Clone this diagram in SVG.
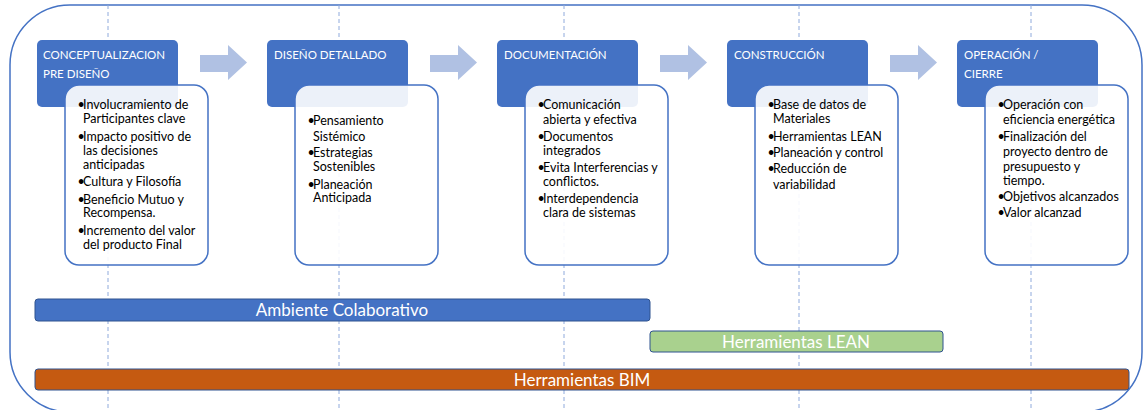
<svg xmlns="http://www.w3.org/2000/svg" width="1145" height="410" viewBox="0 0 1145 410">
<style>
.frame{fill:#fff;stroke:#4472c4;stroke-width:1.5}
.guide{stroke:#8faadc;stroke-width:1;stroke-dasharray:4 3}
.hdr{fill:#4472c4}
.det{fill:#fff;fill-opacity:0.9;stroke:#4472c4;stroke-width:1.5}
.ht{font-family:Lato,"Liberation Sans",sans-serif;font-size:11.5px;fill:#fff}
.bt{font-family:Lato,"Liberation Sans",sans-serif;font-size:12.5px;fill:#000}
.arr{fill:#b0c1e3}
.bar{stroke:#2f528f;stroke-width:1}
.bart{font-family:Lato,"Liberation Sans",sans-serif;font-size:17px;fill:#fff;text-anchor:middle}
</style>
<rect class="frame" x="10" y="5" width="1132" height="407" rx="60"/>
<g id="guides">
<line class="guide" x1="108" y1="5" x2="108" y2="410"/>
<line class="guide" x1="339" y1="5" x2="339" y2="410"/>
<line class="guide" x1="564" y1="5" x2="564" y2="410"/>
<line class="guide" x1="799" y1="5" x2="799" y2="410"/>
<line class="guide" x1="1031" y1="5" x2="1031" y2="410"/>
</g>
<g id="connectors">
<path class="arr" d="M200,55 H228 V45 L247,62.5 L228,80 V72 H200 Z"/>
<path class="arr" d="M430,55 H458 V45 L477,62.5 L458,80 V72 H430 Z"/>
<path class="arr" d="M660,55 H688 V45 L707,62.5 L688,80 V72 H660 Z"/>
<path class="arr" d="M890,55 H918 V45 L937,62.5 L918,80 V72 H890 Z"/>
</g>
<g id="phase1">
<rect class="hdr" x="37" y="40" width="141" height="67" rx="5"/>
<text class="ht" x="43" y="58.5">CONCEPTUALIZACION</text>
<text class="ht" x="43" y="77.5">PRE DISEÑO</text>
<rect class="det" x="65" y="85" width="143" height="180" rx="14"/>
<text class="bt"><tspan x="77.5" y="108.5">•</tspan><tspan x="83" y="108.5">Involucramiento de</tspan><tspan x="83" y="122.5">Participantes clave</tspan><tspan x="77.5" y="141">•</tspan><tspan x="83" y="141">Impacto positivo de</tspan><tspan x="83" y="154.5">las decisiones</tspan><tspan x="83" y="168.5">anticipadas</tspan><tspan x="77.5" y="185.5">•</tspan><tspan x="83" y="185.5">Cultura y Filosofía</tspan><tspan x="77.5" y="203.5">•</tspan><tspan x="83" y="203.5">Beneficio Mutuo y</tspan><tspan x="83" y="217">Recompensa.</tspan><tspan x="77.5" y="234.5">•</tspan><tspan x="83" y="234.5">Incremento del valor</tspan><tspan x="83" y="248.5">del producto Final</tspan></text>
</g>
<g id="phase2">
<rect class="hdr" x="267" y="40" width="141" height="67" rx="5"/>
<text class="ht" x="274" y="58.5">DISEÑO DETALLADO</text>
<rect class="det" x="295" y="85" width="143" height="180" rx="14"/>
<text class="bt"><tspan x="307.5" y="125">•</tspan><tspan x="313" y="125">Pensamiento</tspan><tspan x="313" y="140.5">Sistémico</tspan><tspan x="307.5" y="156.5">•</tspan><tspan x="313" y="156.5">Estrategias</tspan><tspan x="313" y="171">Sostenibles</tspan><tspan x="307.5" y="188.5">•</tspan><tspan x="313" y="188.5">Planeación</tspan><tspan x="313" y="202">Anticipada</tspan></text>
</g>
<g id="phase3">
<rect class="hdr" x="497" y="40" width="141" height="67" rx="5"/>
<text class="ht" x="504" y="58.5">DOCUMENTACIÓN</text>
<rect class="det" x="525" y="85" width="143" height="180" rx="14"/>
<text class="bt"><tspan x="537.5" y="108.5">•</tspan><tspan x="543" y="108.5">Comunicación</tspan><tspan x="543" y="123.5">abierta y efectiva</tspan><tspan x="537.5" y="140.5">•</tspan><tspan x="543" y="140.5">Documentos</tspan><tspan x="543" y="154.5">integrados</tspan><tspan x="537.5" y="171.5">•</tspan><tspan x="543" y="171.5">Evita Interferencias y</tspan><tspan x="543" y="186">conflictos.</tspan><tspan x="537.5" y="202.5">•</tspan><tspan x="543" y="202.5">Interdependencia</tspan><tspan x="543" y="217">clara de sistemas</tspan></text>
</g>
<g id="phase4">
<rect class="hdr" x="727" y="40" width="141" height="67" rx="5"/>
<text class="ht" x="734" y="58.5">CONSTRUCCIÓN</text>
<rect class="det" x="755" y="85" width="143" height="180" rx="14"/>
<text class="bt"><tspan x="767.5" y="108.5">•</tspan><tspan x="773" y="108.5">Base de datos de</tspan><tspan x="773" y="122.5">Materiales</tspan><tspan x="767.5" y="140.5">•</tspan><tspan x="773" y="140.5">Herramientas LEAN</tspan><tspan x="767.5" y="156.5">•</tspan><tspan x="773" y="156.5">Planeación y control</tspan><tspan x="767.5" y="172.5">•</tspan><tspan x="773" y="172.5">Reducción de</tspan><tspan x="773" y="188.5">variabilidad</tspan></text>
</g>
<g id="phase5">
<rect class="hdr" x="957" y="40" width="141" height="67" rx="5"/>
<text class="ht" x="964" y="58.5">OPERACIÓN /</text>
<text class="ht" x="964" y="78">CIERRE</text>
<rect class="det" x="985" y="85" width="143" height="180" rx="14"/>
<text class="bt"><tspan x="997.5" y="108.5">•</tspan><tspan x="1003" y="108.5">Operación con</tspan><tspan x="1003" y="123.5">eficiencia energética</tspan><tspan x="997.5" y="141">•</tspan><tspan x="1003" y="141">Finalización del</tspan><tspan x="1003" y="156">proyecto dentro de</tspan><tspan x="1003" y="170.5">presupuesto y</tspan><tspan x="1003" y="184.5">tiempo.</tspan><tspan x="997.5" y="200.5">•</tspan><tspan x="1003" y="200.5">Objetivos alcanzados</tspan><tspan x="997.5" y="217">•</tspan><tspan x="1003" y="217">Valor alcanzad</tspan></text>
</g>
<g id="bar-colaborativo">
<rect class="bar" x="35" y="299" width="615" height="22" rx="3" fill="#4472c4"/>
<text class="bart" x="342" y="316">Ambiente Colaborativo</text>
</g>
<g id="bar-lean">
<rect class="bar" x="650" y="331" width="293" height="21" rx="3" fill="#a9d18e"/>
<text class="bart" x="796" y="347.5">Herramientas LEAN</text>
</g>
<g id="bar-bim">
<rect class="bar" x="35" y="369" width="1094" height="21" rx="3" fill="#c55a11"/>
<text class="bart" x="582" y="385.5">Herramientas BIM</text>
</g>
</svg>
